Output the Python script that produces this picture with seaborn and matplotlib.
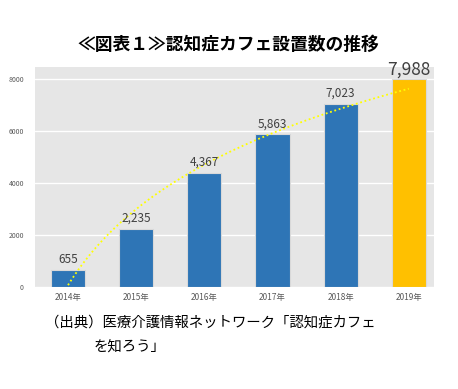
import matplotlib
matplotlib.use("Agg")
import matplotlib.pyplot as plt
import seaborn as sns
import pandas as pd

# chart data
years = ["2014年", "2015年", "2016年", "2017年", "2018年", "2019年"]
cafes = [655, 2235, 4367, 5863, 7023, 7988]
bar_colors = ["#2E75B6"] * 5 + ["#FFC000"]

title = "≪図表１≫認知症カフェ設置数の推移"
source_1 = "（出典）医療介護情報ネットワーク「認知症カフェ"
source_2 = "を知ろう」"

sns.set_style("whitegrid")
plt.rcParams["font.family"] = ["Noto Sans CJK JP", "DejaVu Sans"]

df = pd.DataFrame({"pos": range(1, len(years) + 1), "year": years, "cafes": cafes})

fig = plt.figure(figsize=(4.58, 3.89), dpi=100)
ax = fig.add_axes([0.0764, 0.2622, 0.8712, 0.5656])
ax.set_facecolor("#E6E6E6")

sns.barplot(data=df, x="pos", y="cafes", hue="year", palette=bar_colors,
            native_scale=True, width=0.5, saturation=1, edgecolor="#D9D9D9",
            linewidth=0.8, legend=False, ax=ax, zorder=2)

# logarithmic trend line (dotted yellow)
sns.regplot(data=df, x="pos", y="cafes", logx=True, ci=None, scatter=False,
            ax=ax, line_kws=dict(color="#FFFF00", ls=(0, (1, 1.5)), lw=1.3, zorder=3))

for i, (p, v) in enumerate(zip(df["pos"], cafes)):
    big = i == len(cafes) - 1
    ax.annotate(f"{v:,}", (p, v), xytext=(0, 0 if big else 3), textcoords="offset points",
                ha="center", va="bottom", fontsize=12.5 if big else 8.5,
                color="#404040", zorder=4)

ax.set_xlim(0.515, 6.37)
ax.set_ylim(0, 8450)
ax.set_yticks([0, 2000, 4000, 6000, 8000])
ax.set_xticks(df["pos"])
ax.set_xticklabels(years)
ax.tick_params(axis="y", labelsize=5, colors="#595959", length=0, pad=8)
ax.tick_params(axis="x", labelsize=6, colors="#595959", length=0, pad=4)
ax.grid(axis="y", color="white", lw=1)
ax.grid(axis="x", visible=False)
ax.set_axisbelow(True)
ax.set_xlabel("")
ax.set_ylabel("")
for s in ax.spines.values():
    s.set_visible(False)

fig.text(0.498, 0.884, title, ha="center", va="center", fontsize=12.8,
         fontweight="bold", color="black")
fig.text(0.098, 0.172, source_1, ha="left", va="center", fontsize=10.4, color="black")
fig.text(0.205, 0.106, source_2, ha="left", va="center", fontsize=10.4, color="black")

fig.savefig("out.png", dpi=100)
